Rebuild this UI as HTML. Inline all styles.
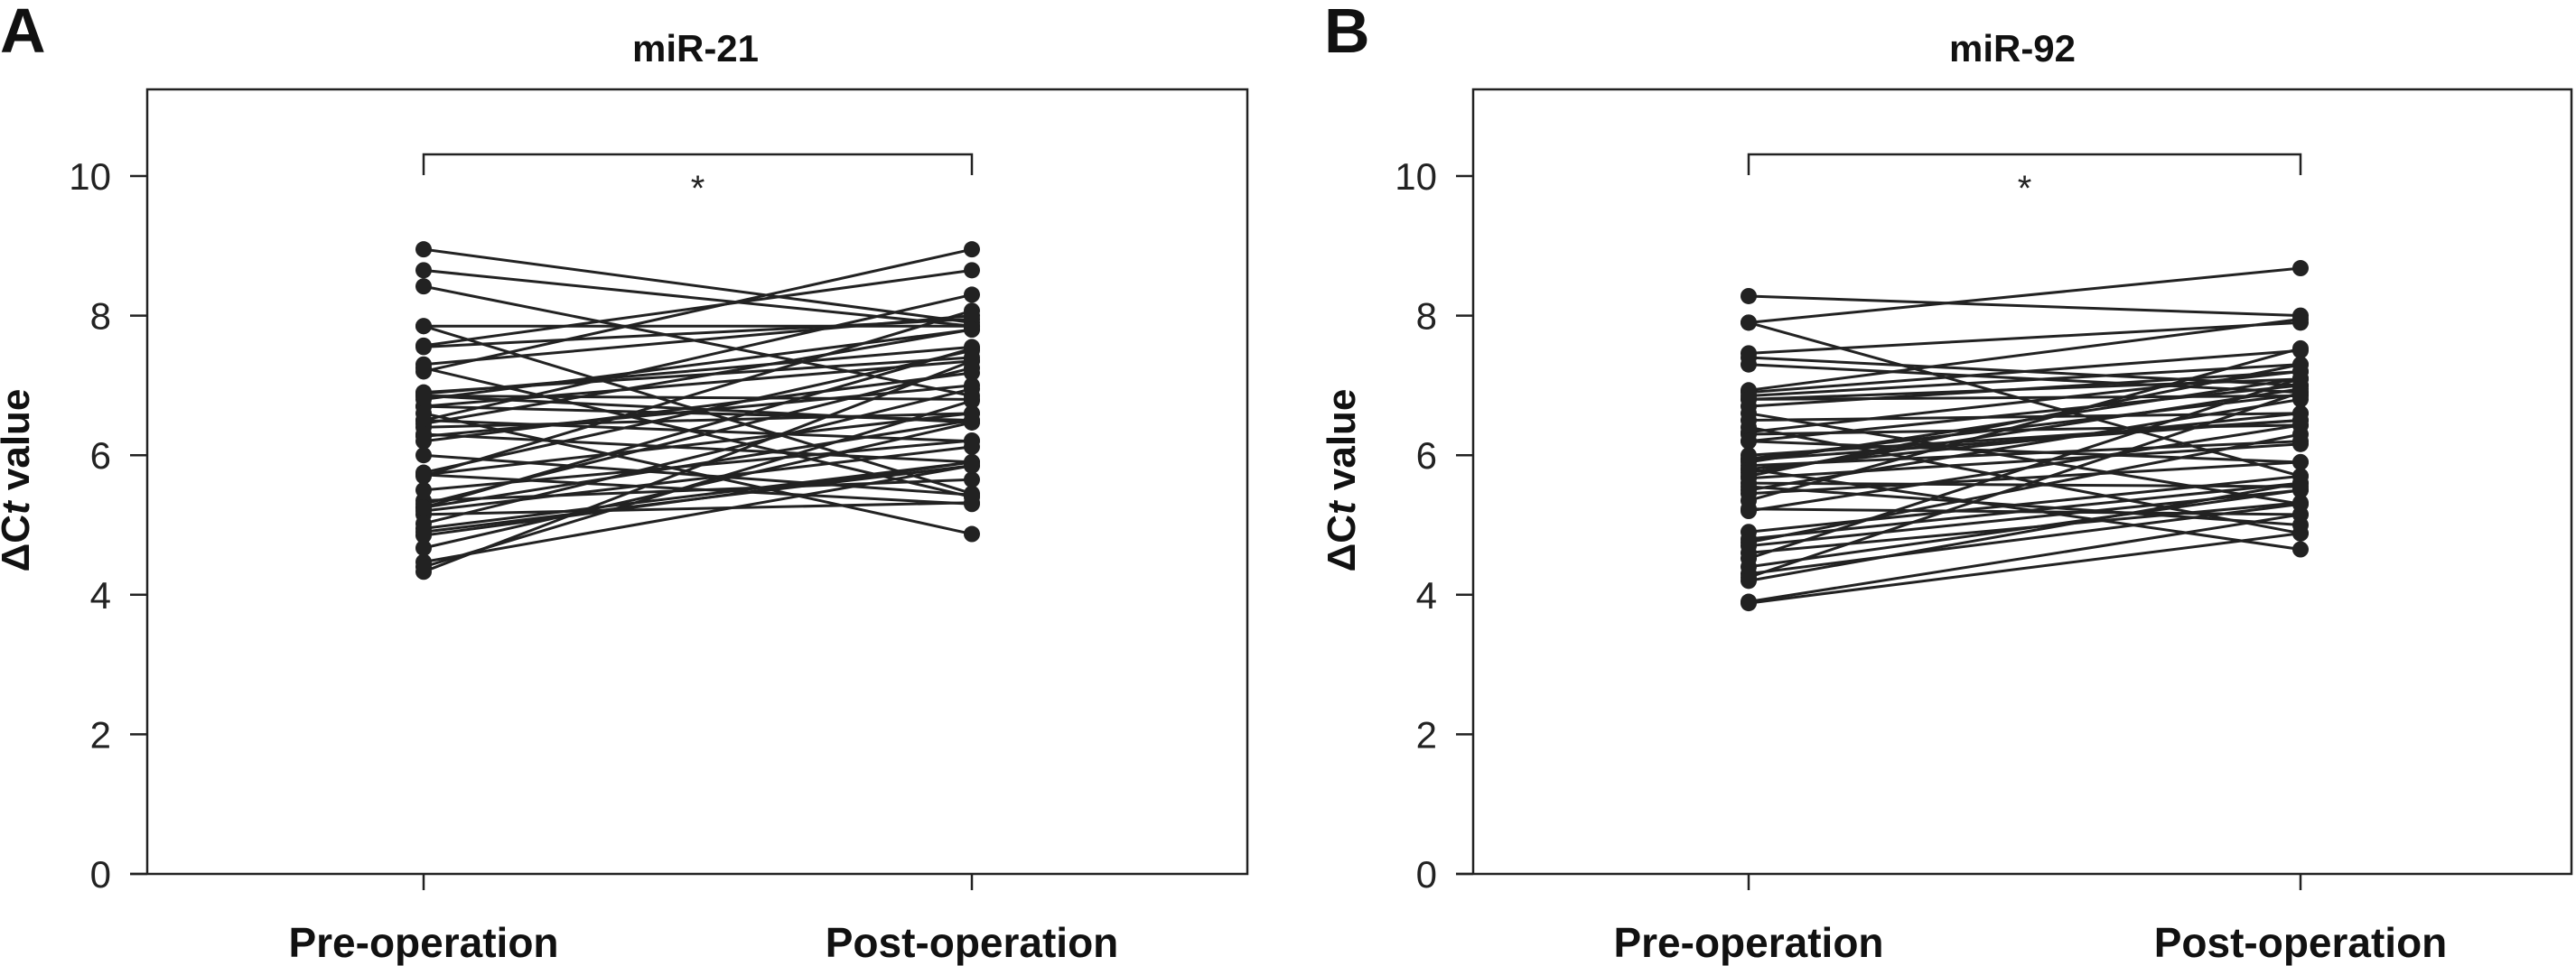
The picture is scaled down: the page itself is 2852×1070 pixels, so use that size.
<!DOCTYPE html>
<html><head><meta charset="utf-8"><style>
html,body{margin:0;padding:0;background:#fff;}
svg{display:block;font-family:"Liberation Sans",sans-serif;}
</style></head><body>
<svg id="fig" width="2852" height="1070" viewBox="0 0 2852 1070"></svg>
<script>
const categories = ["Pre-operation","Post-operation"];
const yTicks = [0,2,4,6,8,10];
const preA = [8.95,8.65,8.42,7.85,7.85,7.57,7.55,7.3,7.25,6.9,6.88,6.85,6.8,6.7,6.7,6.5,6.5,6.45,6.4,6.3,6.27,6.0,5.75,5.72,5.72,5.7,5.35,5.3,5.25,5.2,5.15,5.02,4.95,4.9,4.67,4.47,4.4,4.33,6.6,7.2,5.5,6.2,6.85,5.25,4.85];
const postA = [7.9,7.85,6.85,7.85,5.45,8.65,7.95,8.0,5.4,7.4,7.55,6.8,7.8,6.5,7.35,8.3,6.2,7.8,6.6,5.9,7.0,5.43,7.5,6.6,5.3,8.07,5.65,7.25,6.5,6.12,5.32,6.95,5.9,5.85,6.47,5.85,6.78,7.35,4.87,8.95,6.21,7.18,6.47,7.53,5.9];
const preB = [8.28,7.9,7.9,7.46,7.4,7.3,6.93,6.9,6.85,6.8,6.8,6.6,6.5,6.4,6.33,6.3,6.2,6.2,5.95,5.93,5.9,5.85,5.8,5.8,5.7,5.67,5.6,5.5,5.45,5.35,5.23,5.2,4.9,4.8,4.75,4.7,4.52,4.4,4.3,4.25,4.2,3.88,6.7,5.75,6.0,5.55,4.6,3.9];
const postB = [8.0,8.68,5.7,7.9,7.0,6.9,7.95,7.5,7.3,6.85,7.09,5.3,6.6,4.88,7.2,6.43,7.0,5.9,6.87,6.5,7.1,6.2,6.6,4.65,7.3,6.16,5.55,6.8,5.9,7.53,5.15,6.43,5.7,5.6,6.3,5.5,7.1,5.5,5.3,6.9,5.6,4.88,7.2,6.95,6.5,5.0,5.32,5.15];

const NS="http://www.w3.org/2000/svg";
const svg=document.getElementById('fig');
function mk(tag,attrs,parent){const e=document.createElementNS(NS,tag);for(const k in attrs)e.setAttribute(k,attrs[k]);(parent||svg).appendChild(e);return e;}

function panel(cfg){
  const g=mk('g',{});
  
  
  const y0=968, pxPerUnit=77.3;
  const yS=v=>y0-v*pxPerUnit;
  const xS=i=>i===0?cfg.xPre:cfg.xPost;
  const fr=mk('path',{d:`M${cfg.left} ${y0} V99 H${cfg.right} V${y0} H${cfg.left-19}`,fill:'none',stroke:'#222','stroke-width':2.5},g);
  
  
  yTicks.forEach(t=>{
    const l=mk('line',{x1:cfg.left-19,x2:cfg.left,y1:yS(t),y2:yS(t),stroke:'#222','stroke-width':2.5},g);
    
    
    const tx=mk('text',{x:cfg.left-40,y:yS(t)+15,'text-anchor':'end','font-size':42,fill:'#222'},g);
    tx.textContent=t;
    
    
  });
  categories.forEach((c,i)=>{
    const l=mk('line',{x1:xS(i),x2:xS(i),y1:y0,y2:986,stroke:'#222','stroke-width':2.5},g);
    
    
    const tx=mk('text',{x:xS(i),y:1060,'text-anchor':'middle','font-size':46,'font-weight':'bold',fill:'#111'},g);
    tx.textContent=c;
    
    
  });
  const br=mk('path',{d:`M${cfg.xPre} 194 V171 H${cfg.xPost} V194`,fill:'none',stroke:'#222','stroke-width':2.5},g);
  
  
  const st=mk('text',{x:(cfg.xPre+cfg.xPost)/2,y:222,'text-anchor':'middle','font-size':40,fill:'#222'},g);
  st.textContent='*';
  
  
  cfg.pre.forEach((v,i)=>{
    const l=mk('line',{x1:xS(0),y1:yS(v),x2:xS(1),y2:yS(cfg.post[i]),stroke:'#222','stroke-width':3},g);
    
    
  });
  cfg.pre.forEach((v,i)=>{
    [v,cfg.post[i]].forEach((val,j)=>{
      const c=mk('circle',{cx:xS(j),cy:yS(val),r:9,fill:'#222'},g);
      
      
    });
  });
  const ti=mk('text',{x:cfg.titleX,y:68,'text-anchor':'middle','font-size':42,'font-weight':'bold',fill:'#111'},g);
  ti.textContent=cfg.title;
  
  
  const le=mk('text',{x:cfg.letterX,y:58,'font-size':70,'font-weight':'bold',fill:'#111'},g);
  le.textContent=cfg.letter;
  
  
  const yt=mk('text',{x:0,y:0,'text-anchor':'middle','font-size':44,'font-weight':'bold',fill:'#111',transform:`translate(${cfg.yTitleX},532) rotate(-90)`},g);
  yt.innerHTML='ΔC<tspan font-style="italic">t</tspan> value';
  
  
}
panel({letter:'A',letterX:0,title:'miR-21',titleX:770,left:163,right:1381,xPre:469,xPost:1076,yTitleX:32,pre:preA,post:postA});
panel({letter:'B',letterX:1466,title:'miR-92',titleX:2228,left:1631,right:2847,xPre:1936,xPost:2547,yTitleX:1500,pre:preB,post:postB});
</script>
</body></html>
